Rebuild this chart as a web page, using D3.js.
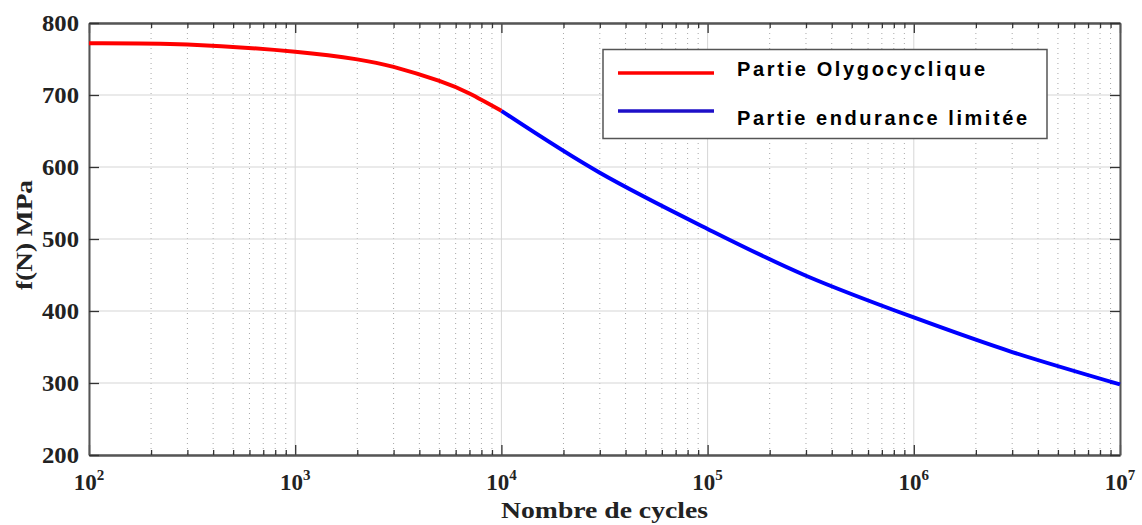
<!DOCTYPE html>
<html><head><meta charset="utf-8">
<script src="https://cdn.jsdelivr.net/npm/d3@7"></script>
<style>
html,body{margin:0;padding:0;background:#fff;}
svg{display:block;}
</style></head>
<body>
<svg id="chart" width="1142" height="525"></svg>
<script>
// ---- data ----
const cyclesRed = [100, 300, 1000, 2000, 3000, 5000, 7000, 10000];
const stressRed = [772, 770.2, 760, 749.5, 739, 719.5, 702, 678];
const cyclesBlue = [10000, 30000, 100000, 300000, 1000000, 3000000, 10000000];
const stressBlue = [678, 592, 514, 449, 391, 343, 298];
const seriesNames = ["Partie Olygocyclique", "Partie endurance limitée"];
const yTicks = [200, 300, 400, 500, 600, 700, 800];
const xExponents = [2, 3, 4, 5, 6, 7];
const xTitle = "Nombre de cycles";
const yTitle = "f(N) MPa";

(function () {
// ---- layout ----
const L = 89, R = 1120, T = 23, B = 455;
const svg = d3.select("#chart");
const x = d3.scaleLog().domain([1e2, 1e7]).range([L, R]);
const y = d3.scaleLinear().domain([200, 800]).range([B, T]);

// minor x values
const minorX = [];
for (let e = 2; e < 7; e++) for (let k = 2; k <= 9; k++) minorX.push(k * Math.pow(10, e));
const majorX = xExponents.map(e => Math.pow(10, e));

const grid = svg.append("g");
grid.selectAll(".mx").data(minorX).join("line")
  .attr("x1", d => x(d)).attr("x2", d => x(d)).attr("y1", T).attr("y2", B)
  .attr("stroke", "#a8a8a8").attr("stroke-width", 1).attr("stroke-dasharray", "1,4");
grid.selectAll(".Mx").data(majorX).join("line")
  .attr("x1", d => x(d)).attr("x2", d => x(d)).attr("y1", T).attr("y2", B)
  .attr("stroke", "#d6d6d6").attr("stroke-width", 1);
grid.selectAll(".My").data(yTicks).join("line")
  .attr("x1", L).attr("x2", R).attr("y1", d => y(d)).attr("y2", d => y(d))
  .attr("stroke", "#d6d6d6").attr("stroke-width", 1.2);

// axes with inward ticks
const axisCol = "#555";
const fmtNone = () => "";
const gBottom = svg.append("g").attr("transform", `translate(0,${B})`)
  .call(d3.axisTop(x).tickValues(majorX).tickSize(10).tickFormat(fmtNone).tickSizeOuter(0));
const gBottomMinor = svg.append("g").attr("transform", `translate(0,${B})`)
  .call(d3.axisTop(x).tickValues(minorX).tickSize(5).tickFormat(fmtNone).tickSizeOuter(0));
const gTop = svg.append("g").attr("transform", `translate(0,${T})`)
  .call(d3.axisBottom(x).tickValues(majorX).tickSize(10).tickFormat(fmtNone).tickSizeOuter(0));
const gTopMinor = svg.append("g").attr("transform", `translate(0,${T})`)
  .call(d3.axisBottom(x).tickValues(minorX).tickSize(5).tickFormat(fmtNone).tickSizeOuter(0));
const gLeft = svg.append("g").attr("transform", `translate(${L},0)`)
  .call(d3.axisRight(y).tickValues(yTicks).tickSize(10).tickFormat(fmtNone).tickSizeOuter(0));
const gRight = svg.append("g").attr("transform", `translate(${R},0)`)
  .call(d3.axisLeft(y).tickValues(yTicks).tickSize(10).tickFormat(fmtNone).tickSizeOuter(0));
[gBottom, gBottomMinor, gTop, gTopMinor, gLeft, gRight].forEach(g => {
  g.selectAll("path").attr("stroke", axisCol).attr("stroke-width", 2);
  g.selectAll("line").attr("stroke", "#333").attr("stroke-width", 1.3);
});

// tick labels
const labFont = "'Liberation Serif','Times New Roman',serif";
svg.append("g").selectAll("text").data(yTicks).join("text")
  .attr("x", 79).attr("y", d => y(d)).attr("dy", "0.34em")
  .attr("text-anchor", "end").attr("font-family", labFont).attr("font-weight", "bold")
  .attr("font-size", 23).attr("fill", "#222").attr("textLength", 37).attr("lengthAdjust", "spacingAndGlyphs")
  .text(d => d);

const xl = svg.append("g").selectAll("text").data(xExponents).join("text")
  .attr("x", d => x(Math.pow(10, d))).attr("y", 490)
  .attr("text-anchor", "middle").attr("font-family", labFont).attr("font-weight", "bold")
  .attr("font-size", 23).attr("fill", "#222");
xl.append("tspan").text("10");
xl.append("tspan").attr("dy", -10).attr("font-size", 15).text(d => d);

// titles
svg.append("text").attr("x", (L + R) / 2).attr("y", 518).attr("text-anchor", "middle")
  .attr("font-family", labFont).attr("font-weight", "bold").attr("font-size", 23).attr("fill", "#222")
  .attr("textLength", 207).attr("lengthAdjust", "spacingAndGlyphs")
  .text(xTitle);
svg.append("text").attr("transform", "translate(32,235) rotate(-90)").attr("text-anchor", "middle")
  .attr("font-family", labFont).attr("font-weight", "bold").attr("font-size", 23).attr("fill", "#222")
  .attr("textLength", 110).attr("lengthAdjust", "spacingAndGlyphs")
  .text(yTitle);

// curves
const line = d3.line().x(d => x(d[0])).y(d => y(d[1])).curve(d3.curveNatural);
const redData = cyclesRed.map((c, i) => [c, stressRed[i]]);
const blueData = cyclesBlue.map((c, i) => [c, stressBlue[i]]);
svg.append("path").datum(blueData).attr("d", line).attr("fill", "none")
  .attr("stroke", "#0000ff").attr("stroke-width", 4);
svg.append("path").datum(redData).attr("d", line).attr("fill", "none")
  .attr("stroke", "#ff0000").attr("stroke-width", 4);

// legend
const lg = svg.append("g");
lg.append("rect").attr("x", 603).attr("y", 49.5).attr("width", 444).attr("height", 89)
  .attr("fill", "#fff").attr("stroke", "#555").attr("stroke-width", 1.5);
const legColors = ["#ff0000", "#1e10c8"];
const legY = [73, 111];
const legTextY = [76, 125];
const legLen = [248, 290];
seriesNames.forEach((n, i) => {
  lg.append("line").attr("x1", 618).attr("x2", 714).attr("y1", legY[i]).attr("y2", legY[i])
    .attr("stroke", legColors[i]).attr("stroke-width", 3.5);
  lg.append("text").attr("x", 737).attr("y", legTextY[i])
    .attr("font-family", "'Liberation Sans',Arial,sans-serif").attr("font-weight", "bold")
    .attr("font-size", 20).attr("fill", "#000")
    .attr("textLength", legLen[i]).attr("lengthAdjust", "spacing")
    .text(n);
});
})();
</script>
</body></html>
